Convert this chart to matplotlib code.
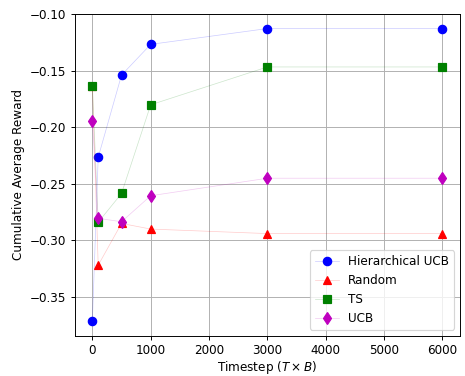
import numpy as np
import matplotlib
matplotlib.use('Agg')
import matplotlib.pyplot as plt

timesteps = [0, 100, 500, 1000, 3000, 6000]
hier_ucb = [-0.3715, -0.2265, -0.1537, -0.1265, -0.1125, -0.1125]
random_r = [-0.1630, -0.3220, -0.2850, -0.2900, -0.2940, -0.2940]
ts = [-0.1630, -0.2840, -0.2585, -0.1800, -0.1465, -0.1465]
ucb = [-0.1940, -0.2805, -0.2835, -0.2605, -0.2450, -0.2450]

dpi = 86
fig = plt.figure(figsize=(465 / dpi, 376 / dpi), dpi=dpi)

plt.plot(timesteps, hier_ucb, 'bo-', linewidth=0.6, markersize=7, label='Hierarchical UCB')
plt.plot(timesteps, random_r, 'r^-', linewidth=0.6, markersize=7, label='Random')
plt.plot(timesteps, ts, 'gs-', linewidth=0.6, markersize=7, label='TS')
plt.plot(timesteps, ucb, 'md-', linewidth=0.6, markersize=7, label='UCB')

# faint connecting lines, solid markers
for line, col in zip(plt.gca().get_lines(), ['b', 'r', 'g', 'm']):
    line.set_color(matplotlib.colors.to_rgba(col, 0.2))
    line.set_markerfacecolor(col)
    line.set_markeredgecolor(col)

plt.grid(True)
plt.xlabel(r'Timestep ($T \times B$)', labelpad=1.5)
plt.ylabel('Cumulative Average Reward')
plt.legend(loc='lower right')
plt.subplots_adjust(left=0.161, right=0.989, top=0.963, bottom=0.107)
plt.savefig('out.png', dpi=dpi)
